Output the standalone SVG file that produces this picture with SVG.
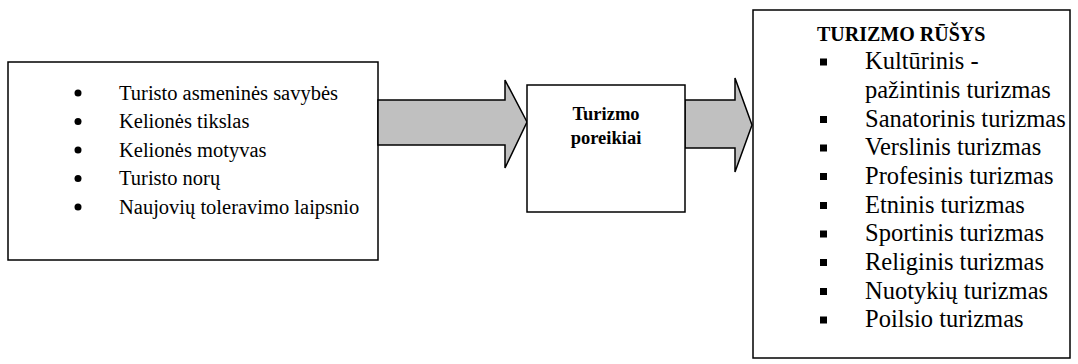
<svg xmlns="http://www.w3.org/2000/svg" width="1078" height="364" viewBox="0 0 1078 364">
  <style>
    .box { fill: #ffffff; stroke: #000000; stroke-width: 1.5; }
    .arrow { fill: #c0c0c0; stroke: #000000; stroke-width: 1.5; stroke-linejoin: miter; }
    text { font-family: 'Liberation Serif', Tinos, 'Times New Roman', 'DejaVu Serif', serif; fill: #000000; }
    .lt { font-size: 20.5px; }
    .rt { font-size: 24.5px; }
    .bold { font-weight: bold; }
    .dot { fill: #000000; }
  </style>
  <rect width="1078" height="364" fill="#ffffff"/>

  <!-- factors box -->
  <g id="factors">
    <rect class="box" x="8" y="62" width="370" height="198"/>
    <circle class="dot" cx="78" cy="93" r="3.5"/>
    <circle class="dot" cx="78" cy="121.5" r="3.5"/>
    <circle class="dot" cx="78" cy="150" r="3.5"/>
    <circle class="dot" cx="78" cy="178.5" r="3.5"/>
    <circle class="dot" cx="78" cy="207" r="3.5"/>
    <text class="lt" x="119" y="99.5">Turisto asmeninės savybės</text>
    <text class="lt" x="119" y="128">Kelionės tikslas</text>
    <text class="lt" x="119" y="156.5">Kelionės motyvas</text>
    <text class="lt" x="119" y="185">Turisto norų</text>
    <text class="lt" x="119" y="213.5">Naujovių toleravimo laipsnio</text>
  </g>

  <!-- connectors: block arrows -->
  <g id="connectors">
    <polygon class="arrow" points="378,100 505,100 505,80 527,122 505,168 505,145 378,145"/>
    <polygon class="arrow" points="685,100 735,100 735,78 752,125 735,172 735,148 685,148"/>
  </g>

  <!-- needs box -->
  <g id="needs">
    <rect class="box" x="527" y="85" width="158" height="127"/>
    <text class="bold" x="606" y="120" text-anchor="middle" font-size="18.5">Turizmo</text>
    <text class="bold" x="606" y="144" text-anchor="middle" font-size="18.5">poreikiai</text>
  </g>

  <!-- tourism types box -->
  <g id="types">
    <rect class="box" x="753" y="10" width="317" height="348"/>
    <text class="bold" x="817" y="41" font-size="20">TURIZMO RŪŠYS</text>
    <rect class="dot" x="820" y="58.5" width="7" height="7"/>
    <rect class="dot" x="820" y="116" width="7" height="7"/>
    <rect class="dot" x="820" y="144.5" width="7" height="7"/>
    <rect class="dot" x="820" y="173" width="7" height="7"/>
    <rect class="dot" x="820" y="202" width="7" height="7"/>
    <rect class="dot" x="820" y="230.5" width="7" height="7"/>
    <rect class="dot" x="820" y="259" width="7" height="7"/>
    <rect class="dot" x="820" y="288" width="7" height="7"/>
    <rect class="dot" x="820" y="316.5" width="7" height="7"/>
    <text class="rt" x="865" y="69">Kultūrinis  -</text>
    <text class="rt" x="865" y="97.5">pažintinis turizmas</text>
    <text class="rt" x="865" y="126.5">Sanatorinis turizmas</text>
    <text class="rt" x="865" y="155">Verslinis turizmas</text>
    <text class="rt" x="865" y="183.5">Profesinis turizmas</text>
    <text class="rt" x="865" y="212.5">Etninis turizmas</text>
    <text class="rt" x="865" y="241">Sportinis turizmas</text>
    <text class="rt" x="865" y="269.5">Religinis turizmas</text>
    <text class="rt" x="865" y="298.5">Nuotykių turizmas</text>
    <text class="rt" x="865" y="327">Poilsio turizmas</text>
  </g>
</svg>
